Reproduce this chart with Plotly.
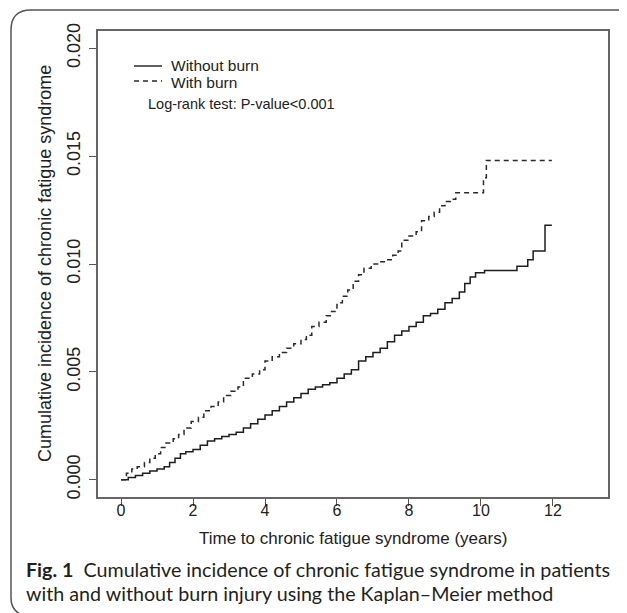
import plotly.graph_objects as go

# ---- data ----
with_burn_t = [0, 0.15, 0.3, 0.45, 0.65, 0.8, 0.95, 1.1, 1.25, 1.45, 1.6, 1.75, 1.95, 2.15, 2.3,
               2.5, 2.7, 2.85, 3.05, 3.25, 3.4, 3.65, 3.85, 4.0, 4.2, 4.4, 4.6, 4.8, 5.0, 5.15,
               5.3, 5.5, 5.7, 5.85, 6.0, 6.15, 6.3, 6.45, 6.6, 6.75, 6.95, 7.15, 7.35, 7.55,
               7.7, 7.8, 8.0, 8.2, 8.35, 8.55, 8.7, 8.85, 9.0, 9.15, 9.3, 10.07, 10.15, 11.97]
with_burn_v = [0, 0.0003, 0.0005, 0.0006, 0.0008, 0.0010, 0.0012, 0.0015, 0.0017, 0.0019, 0.0021,
               0.0024, 0.0027, 0.0029, 0.0032, 0.0034, 0.0036, 0.0039, 0.0041, 0.0043, 0.0047,
               0.0049, 0.0051, 0.0055, 0.0057, 0.0059, 0.0061, 0.0063, 0.0065, 0.0067, 0.0071,
               0.0073, 0.0076, 0.0078, 0.0082, 0.0085, 0.0088, 0.0092, 0.0095, 0.0098, 0.0100,
               0.0101, 0.0102, 0.0104, 0.0106, 0.0111, 0.0113, 0.0115, 0.0120, 0.0122, 0.0124,
               0.0127, 0.0129, 0.0130, 0.0133, 0.0140, 0.0148, 0.0148]

without_burn_t = [0, 0.2, 0.4, 0.6, 0.8, 1.0, 1.2, 1.35, 1.5, 1.65, 1.8, 2.0, 2.2, 2.4, 2.6, 2.8,
                  3.0, 3.2, 3.4, 3.6, 3.8, 4.0, 4.2, 4.4, 4.6, 4.8, 5.0, 5.2, 5.4, 5.6, 5.8, 6.0,
                  6.2, 6.4, 6.6, 6.8, 7.0, 7.2, 7.4, 7.6, 7.8, 8.0, 8.2, 8.4, 8.6, 8.8, 9.0, 9.2,
                  9.4, 9.55, 9.7, 9.85, 10.1, 11.0, 11.3, 11.45, 11.78, 11.97]
without_burn_v = [0, 0.0001, 0.0002, 0.0003, 0.0004, 0.0005, 0.0006, 0.0008, 0.0010, 0.0012,
                  0.0013, 0.0014, 0.0016, 0.0018, 0.0019, 0.0020, 0.0021, 0.0022, 0.0024, 0.0026,
                  0.0028, 0.0030, 0.0032, 0.0034, 0.0036, 0.0038, 0.0040, 0.0042, 0.0043, 0.0044,
                  0.0045, 0.0047, 0.0049, 0.0051, 0.0055, 0.0057, 0.0059, 0.0061, 0.0064, 0.0067,
                  0.0069, 0.0071, 0.0073, 0.0076, 0.0077, 0.0079, 0.0082, 0.0084, 0.0087, 0.0091,
                  0.0094, 0.0096, 0.0097, 0.0099, 0.0102, 0.0106, 0.0118, 0.0118]

x_ticks = [0, 2, 4, 6, 8, 10, 12]
y_ticks = [0.000, 0.005, 0.010, 0.015, 0.020]
y_tick_labels = ["0.000", "0.005", "0.010", "0.015", "0.020"]

series_names = ["Without burn", "With burn"]
x_title = "Time to chronic fatigue syndrome (years)"
y_title = "Cumulative incidence of chronic fatigue syndrome"
test_text = "Log-rank test: P-value<0.001"
caption_1 = "<b>Fig. 1</b>  Cumulative incidence of chronic fatigue syndrome in patients"
caption_2 = "with and without burn injury using the Kaplan\u2013Meier method"

# ---- layout geometry (pixels, in window coordinates) ----
OFF = 8  # default page body margin
W, H = 627 - OFF, 613 - OFF
L, R, T, B = 98 - OFF, 608 - OFF, 31 - OFF, 497 - OFF


def px(x):
    return (x - OFF - L) / (R - L)


def py(y):
    return (B - (y - OFF)) / (B - T)


FAM = "Liberation Sans, Arial, sans-serif"
XT_FONT = dict(family=FAM, size=16, color="#222222")
YT_FONT = dict(family=FAM, size=18, color="#222222")

fig = go.Figure()
fig.add_trace(go.Scatter(x=without_burn_t, y=without_burn_v, mode="lines", line_shape="hv",
                         name=series_names[0], line=dict(color="#1e1e1e", width=1.5)))
fig.add_trace(go.Scatter(x=with_burn_t, y=with_burn_v, mode="lines", line_shape="hv",
                         name=series_names[1],
                         line=dict(color="#2a2a2a", width=1.5, dash="5px,4px")))

fig.update_layout(
    width=W, height=H,
    margin=dict(l=L, r=W - R, t=T, b=H - B, autoexpand=False),
    paper_bgcolor="white", plot_bgcolor="white",
    showlegend=False,
    xaxis=dict(range=[-0.64, 13.53], tickvals=x_ticks, ticks="outside", ticklen=7,
               tickcolor="#555555", tickwidth=1.2, showgrid=False, zeroline=False,
               showline=True, linecolor="#666666", linewidth=1.5, mirror=True,
               tickfont=XT_FONT, ticklabelstandoff=-9, automargin=False),
    yaxis=dict(range=[-0.0008, 0.0208], tickvals=y_ticks, ticktext=y_tick_labels,
               ticks="outside", ticklen=7, tickcolor="#555555", tickwidth=1.2,
               showgrid=False, zeroline=False, showline=True, linecolor="#666666",
               linewidth=1.5, mirror=True, tickangle=-90, tickfont=YT_FONT,
               ticklabelstandoff=2, automargin=False),
)

ann = []
ann.append(dict(text=x_title, x=px(353), y=py(538), xref="paper", yref="paper",
                showarrow=False, xanchor="center", yanchor="middle",
                font=dict(family=FAM, size=17, color="#222222")))
ann.append(dict(text=y_title, x=px(45), y=py(264), xref="paper", yref="paper",
                showarrow=False, xanchor="center", yanchor="middle", textangle=-90,
                font=YT_FONT))
LEG_FONT = dict(family=FAM, size=15.5, color="#222222")
ann.append(dict(text=series_names[0], x=px(169), y=py(66), xref="paper", yref="paper",
                showarrow=False, xanchor="left", yanchor="middle", font=LEG_FONT))
ann.append(dict(text=series_names[1], x=px(169), y=py(82), xref="paper", yref="paper",
                showarrow=False, xanchor="left", yanchor="middle", font=LEG_FONT))
ann.append(dict(text=test_text, x=px(146), y=py(104), xref="paper", yref="paper",
                showarrow=False, xanchor="left", yanchor="middle",
                font=dict(family=FAM, size=14.5, color="#222222")))
CAP_FONT = dict(family="Lato, Open Sans, sans-serif", size=19.7, color="#231f20")
ann.append(dict(text=caption_1, x=px(24), y=py(569), xref="paper", yref="paper",
                showarrow=False, xanchor="left", yanchor="middle", font=CAP_FONT))
ann.append(dict(text=caption_2, x=px(24), y=py(594), xref="paper", yref="paper",
                showarrow=False, xanchor="left", yanchor="middle", font=CAP_FONT))
fig.update_layout(annotations=ann)

shapes = []
shapes.append(dict(type="line", xref="paper", yref="paper", x0=px(134), x1=px(162),
                   y0=py(66), y1=py(66), line=dict(color="#1e1e1e", width=1.4)))
shapes.append(dict(type="line", xref="paper", yref="paper", x0=px(134), x1=px(162),
                   y0=py(81), y1=py(81), line=dict(color="#2a2a2a", width=1.4, dash="5px,4px")))
# rounded outer frame
path = (f"M {px(40)},{py(618)} Q {px(11)},{py(618)} {px(11)},{py(598)} "
        f"L {px(11)},{py(30)} Q {px(11)},{py(10)} {px(31)},{py(10)} L {px(640)},{py(10)}")
shapes.append(dict(type="path", xref="paper", yref="paper", path=path,
                   line=dict(color="#555555", width=1.5)))
fig.update_layout(shapes=shapes)

fig.write_html("out.html")
